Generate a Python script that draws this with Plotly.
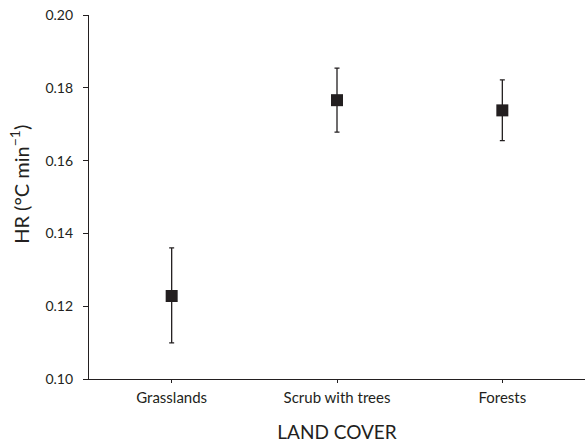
import plotly.graph_objects as go

categories = ["Grasslands", "Scrub with trees", "Forests"]
hr_mean = [0.1228, 0.1766, 0.1738]
err_upper = [0.1360, 0.1854, 0.1822]
err_lower = [0.1099, 0.1678, 0.1655]
y_ticks = [0.10, 0.12, 0.14, 0.16, 0.18, 0.20]

plus = [u - m for u, m in zip(err_upper, hr_mean)]
minus = [m - l for m, l in zip(hr_mean, err_lower)]

ink = "#231f20"
font_family = "Lato, 'Open Sans', sans-serif"

fig = go.Figure(go.Scatter(
    x=list(range(len(categories))), y=hr_mean, mode="markers",
    marker=dict(symbol="square", size=12, color=ink),
    error_y=dict(type="data", symmetric=False, array=plus, arrayminus=minus,
                 color=ink, thickness=1.3, width=2.5),
    showlegend=False,
))

fig.update_layout(
    width=585, height=443,
    margin=dict(l=89, r=0, t=15, b=64),
    paper_bgcolor="white", plot_bgcolor="white",
    font=dict(family=font_family, color=ink),
    xaxis=dict(
        range=[-0.5, 2.5], tickvals=list(range(len(categories))), ticktext=categories,
        showline=True, linecolor=ink, linewidth=1.3, ticks="outside", ticklen=3,
        tickcolor=ink, tickfont=dict(size=15), showgrid=False, zeroline=False,
        automargin=False, ticklabelstandoff=2,
        title=dict(text="LAND COVER", font=dict(size=19), standoff=20),
    ),
    yaxis=dict(
        range=[0.10, 0.20], tickvals=y_ticks, ticktext=[f"{v:.2f}" for v in y_ticks],
        showline=True, linecolor=ink, linewidth=1.3, ticks="outside", ticklen=5,
        tickcolor=ink, tickfont=dict(size=14), showgrid=False, zeroline=False,
        automargin=False, ticklabelstandoff=7,
    ),
    annotations=[dict(
        text="HR (°C min<sup>−1</sup>)", textangle=-90, font=dict(size=20),
        xref="paper", yref="paper", x=-0.14, y=0.535,
        xanchor="center", yanchor="middle", showarrow=False,
    )],
)

fig.write_html("out.html", config={"displayModeBar": False},
               post_script="document.body.style.margin='0px';")
